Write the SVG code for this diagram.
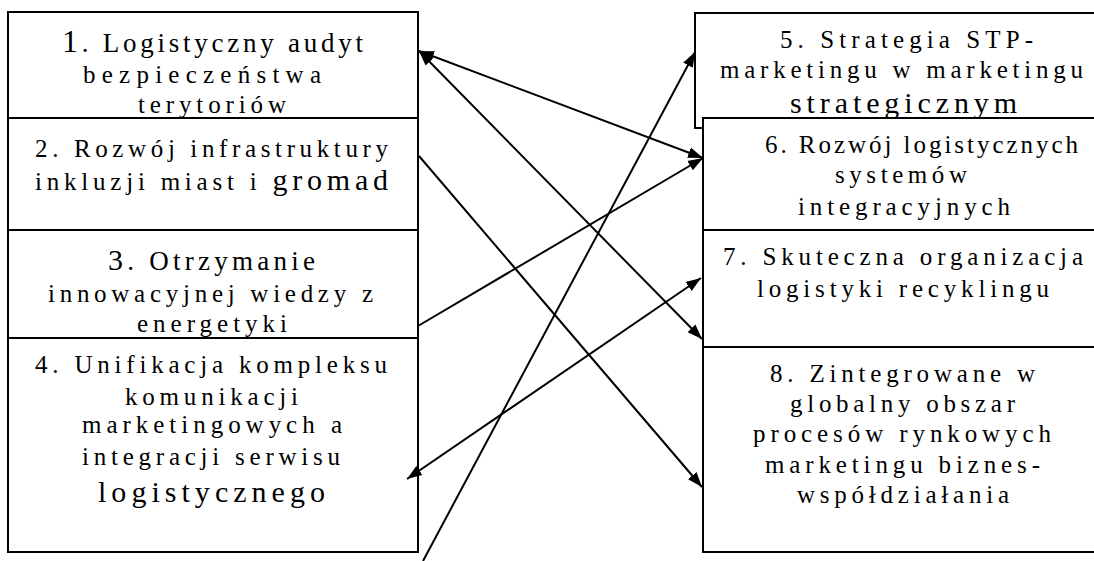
<svg xmlns="http://www.w3.org/2000/svg" width="1094" height="561" viewBox="0 0 1094 561">
<style>
.box{fill:#fff;stroke:#000;stroke-width:2}
.edge{fill:none;stroke:#000;stroke-width:2}
.t{font-family:"Liberation Serif","Times New Roman",Times,serif;font-size:25px;fill:#000}
.big{font-size:30px}
.mid{font-size:27px}
.huge{font-size:32px}
.con{fill:none;stroke:#000;stroke-width:2}
</style>
<defs>
<marker id="ah" markerUnits="userSpaceOnUse" markerWidth="16" markerHeight="12" refX="15" refY="5.5" orient="auto-start-reverse" viewBox="0 0 16 11">
<path d="M0,0 L15,5.5 L0,11 z" fill="#000"/>
</marker>
</defs>
<rect width="1094" height="561" fill="#fff"/>
<g id="node1">
<rect class="box" x="8" y="12" width="410" height="106"/>
<text class="t mid" x="62" y="52" textLength="301" lengthAdjust="spacing"><tspan class="huge">1</tspan>. Logistyczny audyt</text>
<text class="t" x="83" y="83" textLength="238" lengthAdjust="spacing">bezpieczeństwa</text>
<text class="t" x="138" y="113" textLength="148" lengthAdjust="spacing">terytoriów</text>
</g>
<g id="node2">
<rect class="box" x="8" y="118" width="410" height="112"/>
<text class="t" x="35" y="157" textLength="353" lengthAdjust="spacing">2. Rozwój infrastruktury</text>
<text class="t" x="35" y="190" textLength="353" lengthAdjust="spacing">inkluzji miast i <tspan class="big">gromad</tspan></text>
</g>
<g id="node3">
<rect class="box" x="8" y="230" width="410" height="108"/>
<text class="t mid" x="108" y="270" textLength="207" lengthAdjust="spacing"><tspan class="big">3</tspan>. Otrzymanie</text>
<text class="t" x="48" y="302" textLength="325" lengthAdjust="spacing">innowacyjnej wiedzy z</text>
<text class="t" x="137" y="332" textLength="150" lengthAdjust="spacing">energetyki</text>
</g>
<g id="node4">
<rect class="box" x="8" y="338" width="410" height="214"/>
<text class="t" x="35" y="373" textLength="352" lengthAdjust="spacing">4. Unifikacja kompleksu</text>
<text class="t" x="125" y="405" textLength="173" lengthAdjust="spacing">komunikacji</text>
<text class="t" x="82" y="433" textLength="260" lengthAdjust="spacing">marketingowych a</text>
<text class="t" x="82" y="465" textLength="258" lengthAdjust="spacing">integracji serwisu</text>
<text class="t big" x="98" y="502" textLength="227" lengthAdjust="spacing">logistycznego</text>
</g>
<g id="node5">
<path class="edge" d="M1100,13 H695 V128 H703"/>
</g>
<g id="node6">
<rect class="box" x="703" y="118" width="400" height="112"/>
<text class="t" x="765" y="153" textLength="313" lengthAdjust="spacing">6. Rozwój logistycznych</text>
<text class="t" x="835" y="183" textLength="132" lengthAdjust="spacing">systemów</text>
<text class="t" x="798" y="215" textLength="212" lengthAdjust="spacing">integracyjnych</text>
</g>
<g id="node5-text">
<text class="t" x="780" y="48" textLength="253" lengthAdjust="spacing">5. Strategia STP-</text>
<text class="t" x="720" y="78" textLength="363" lengthAdjust="spacing">marketingu w marketingu</text>
<text class="t big" x="790" y="113" textLength="227" lengthAdjust="spacing">strategicznym</text>
</g>
<g id="node7">
<rect class="box" x="703" y="230" width="400" height="117"/>
<text class="t" x="723" y="265" textLength="360" lengthAdjust="spacing">7. Skuteczna organizacja</text>
<text class="t" x="757" y="297" textLength="292" lengthAdjust="spacing">logistyki recyklingu</text>
</g>
<g id="node8">
<rect class="box" x="703" y="347" width="400" height="205"/>
<text class="t" x="770" y="382" textLength="265" lengthAdjust="spacing">8. Zintegrowane w</text>
<text class="t" x="790" y="412" textLength="225" lengthAdjust="spacing">globalny obszar</text>
<text class="t" x="753" y="442" textLength="298" lengthAdjust="spacing">procesów rynkowych</text>
<text class="t" x="765" y="473" textLength="275" lengthAdjust="spacing">marketingu biznes-</text>
<text class="t" x="797" y="503" textLength="212" lengthAdjust="spacing">współdziałania</text>
</g>
<g id="connectors">
<line class="con" x1="419" y1="51" x2="703" y2="158" marker-start="url(#ah)" marker-end="url(#ah)"/>
<line class="con" x1="419" y1="51" x2="702" y2="339" marker-start="url(#ah)" marker-end="url(#ah)"/>
<line class="con" x1="419" y1="156" x2="702" y2="487" marker-end="url(#ah)"/>
<line class="con" x1="418" y1="326" x2="703" y2="158" marker-end="url(#ah)"/>
<line class="con" x1="423" y1="561" x2="695" y2="52" marker-end="url(#ah)"/>
<line class="con" x1="407" y1="479" x2="701" y2="278" marker-start="url(#ah)" marker-end="url(#ah)"/>
</g>
</svg>
